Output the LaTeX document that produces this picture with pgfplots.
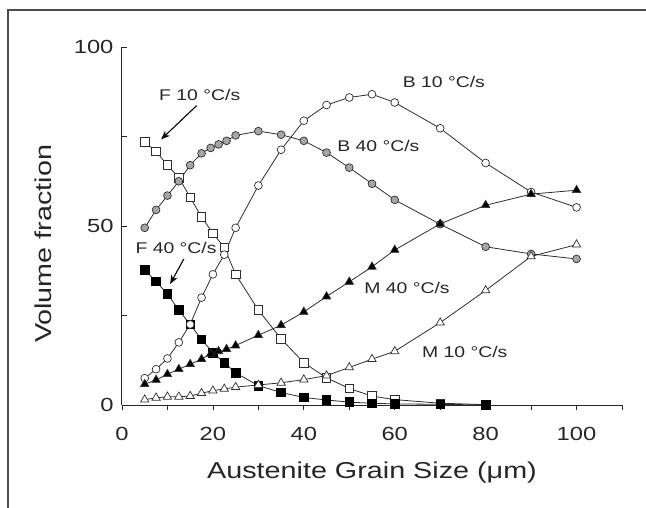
\documentclass[border=0pt]{standalone}
\usepackage{fontspec}
\setmainfont{Liberation Sans}[FakeStretch=1.25]
\usepackage{pgfplots}
\pgfplotsset{compat=1.18}
\usetikzlibrary{arrows.meta}
\definecolor{ln}{HTML}{2E2E2E}
\begin{document}
\begin{tikzpicture}
\useasboundingbox (-122pt,-102pt) rectangle (524pt,405pt);
\draw[line width=1.3pt, black!70] (-114pt,-103pt) -- (-114pt,395pt) -- (525pt,395pt);
\begin{axis}[
  at={(0pt,0pt)}, anchor=south west,
  scale only axis, width=500pt, height=358pt,
  xmin=0, xmax=110, ymin=0, ymax=100,
  axis lines=left, axis line style={-, line width=1pt, black!85},
  clip=false,
  xtick={0,20,40,60,80,100}, minor xtick={10,30,50,70,90,110},
  ytick={0,50,100}, minor ytick={25,75},
  x tick style={black!85, line width=0.8pt}, y tick style={black!85, line width=0.8pt},
  xtick align=outside, ytick align=inside,
  major tick length=5pt, minor tick length=5pt,
  /pgf/number format/assume math mode=true,
  tick label style={font=\fontsize{19}{22}\selectfont, text=black!85},
  xticklabel style={anchor=center, yshift=-24pt},
  yticklabel style={anchor=east, xshift=-5pt},
  xlabel={Austenite Grain Size (μm)},
  ylabel={Volume fraction},
  label style={font=\fontsize{23}{26}\selectfont, text=black!85},
  xlabel style={at={(axis description cs:0.5,-0.19)}, anchor=center},
  ylabel style={at={(axis description cs:-0.158,0.45)}, anchor=center},
  every axis plot/.append style={line width=0.8pt, color=ln},
]
% F 10 C/s
\addplot[mark=square*, mark size=4.3pt, mark options={fill=white, draw=ln, line width=0.7pt}] coordinates {
(5,73.5)(7.5,70.8)(10,67)(12.5,63.5)(15,58)(17.5,52.5)(20,48)(22.5,44)(25,36.5)(30,26.5)(35,18.5)(40,11.8)(45,7.6)(50,4.6)(55,2.5)(60,1.5)(70,0.5)(80,0.1)};
% F 40 C/s
\addplot[mark=square*, mark size=4.3pt, mark options={fill=black, draw=black, line width=0.7pt}] coordinates {
(5,37.7)(7.5,34.5)(10,31)(12.5,26.5)(15,22.5)(17.5,18.3)(20,14.6)(22.5,11.8)(25,9.0)(30,5.4)(35,3.5)(40,2.1)(45,1.4)(50,0.8)(55,0.5)(60,0.3)(70,0.2)(80,0)};
% B 40 C/s
\addplot[mark=*, mark size=3.9pt, mark options={fill=gray!70, draw=ln, line width=0.7pt}] coordinates {
(5,49.5)(7.5,54.5)(10,58.5)(12.5,62.5)(15,67)(17.5,70.3)(19.5,71.8)(21.25,72.8)(23,73.8)(25,75.3)(30,76.5)(35,75.5)(40,73.8)(45,70.5)(50,66.3)(55,61.8)(60,57.3)(70,50.5)(80,44.2)(90,42.2)(100,40.8)};
% B 10 C/s
\addplot[mark=*, mark size=3.9pt, mark options={fill=white, draw=ln, line width=0.7pt}] coordinates {
(5,7.5)(7.5,10)(10,13)(12.5,17.5)(15,22.5)(17.5,30)(20,36.5)(22.5,42)(25,49.5)(30,61.3)(35,71.3)(40,79.4)(45,83.8)(50,85.9)(55,86.8)(60,84.5)(70,77.3)(80,67.6)(90,59.5)(100,55.2)};
% M 40 C/s
\addplot[mark=triangle*, mark size=4.8pt, mark options={fill=black, draw=ln, line width=0.7pt}] coordinates {
(5,5.8)(7.5,7)(10,8.6)(12.5,10)(15,11.4)(17.5,12.8)(19.5,14.3)(21.25,15)(23,15.6)(25,16.6)(30,19.5)(35,22.3)(40,26)(45,30.3)(50,34.4)(55,38.6)(60,43.3)(70,50.6)(80,55.8)(90,58.9)(100,60)};
% M 10 C/s
\addplot[mark=triangle*, mark size=4.8pt, mark options={fill=white, draw=ln, line width=0.7pt}] coordinates {
(5,1.5)(7.5,2)(10,2.3)(12.5,2.3)(15,2.5)(17.5,3.3)(20,4)(22.5,4.5)(25,5)(30,5.6)(35,6.2)(40,7.1)(45,8.2)(50,10.5)(55,12.8)(60,15)(70,23)(80,32)(90,41.5)(100,44.8)};
% annotations
\begin{scope}[every node/.style={font=\fontsize{15.5}{18}\selectfont, text=black!85}]
\node at (axis cs:17.1,86.6) {F 10 °C/s};
\node at (axis cs:11.9,43.9) {F 40 °C/s};
\node at (axis cs:70.8,90.3) {B 10 °C/s};
\node at (axis cs:56.4,72.3) {B 40 °C/s};
\node at (axis cs:62.7,32.7) {M 40 °C/s};
\node at (axis cs:75.4,14.9) {M 10 °C/s};
\end{scope}
\draw[-{Stealth[length=9pt,width=7pt]}, line width=1.1pt, black] (axis cs:16.4,83.6) -- (axis cs:8.6,74.2);
\draw[-{Stealth[length=9pt,width=7pt]}, line width=1.1pt, black] (axis cs:13.6,40.8) -- (axis cs:10.6,33.8);
\end{axis}
\end{tikzpicture}
\end{document}
